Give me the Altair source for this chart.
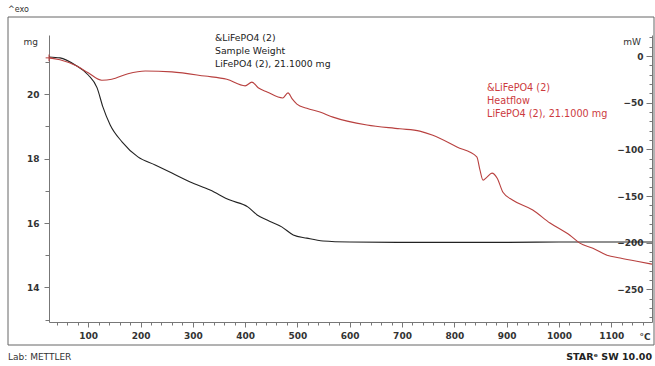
import altair as alt
import pandas as pd

# ---- data ----
temp_w = [25, 46, 75, 100, 117, 128, 142, 165, 195, 228, 260, 295, 333, 371, 405, 423, 442, 470, 492, 518,
          549, 600, 700, 800, 900, 1000, 1100, 1178]
mass_mg = [21.15, 21.12, 20.90, 20.59, 20.19, 19.60, 19.04, 18.51, 18.05, 17.80, 17.55, 17.27, 17.02, 16.71,
           16.50, 16.25, 16.09, 15.88, 15.63, 15.53, 15.44, 15.41, 15.40, 15.40, 15.40, 15.41, 15.41, 15.41]

temp_h = [25, 46, 75, 100, 126, 145, 176, 209, 260, 323, 365, 400, 413, 425, 442, 472, 482, 490, 499, 518,
          543, 568, 633, 696, 734, 759, 805, 843, 849, 855, 862, 872, 882, 893, 912, 950, 983, 1021, 1040, 1065,
          1092, 1117, 1149, 1178]
heat_mw = [-2, -4, -10, -18, -26, -25, -19, -16, -17, -21.5, -25, -32, -28, -34, -38.5, -45, -39.5, -46, -51.5, -56,
           -60, -65.5, -74, -78, -80.5, -85, -97.5, -108, -122, -133, -130, -125.5, -131, -146, -154.5, -165, -179,
           -192, -200.5, -206, -213.5, -216.5, -220, -223]

x_ticks = list(range(40, 1161, 20))
mg_ticks = list(range(13, 22))
mw_ticks = list(range(-280, 21, 10))

weight_label = ["&LiFePO4 (2)", "Sample Weight", "LiFePO4 (2), 21.1000 mg"]
heat_label = ["&LiFePO4 (2)", "Heatflow", "LiFePO4 (2), 21.1000 mg"]
exo_text = "^exo"
mg_unit = "mg"
mw_unit = "mW"
deg_unit = "°C"
lab_text = "Lab: METTLER"
star_text = "STARᵉ SW 10.00"

FONT = "DejaVu Sans"
W, H = 603, 287
BLACK = "#222222"
RED = "#b8403f"
TXT_RED = "#cc3a3e"
AX = "#777777"

wdf = pd.DataFrame({"T": temp_w, "mg": mass_mg})
hdf = pd.DataFrame({"T": temp_h, "mW": heat_mw})
dummy = pd.DataFrame({"k": [0]})

xscale = alt.Scale(domain=[25, 1178], nice=False, zero=False)
xaxis = alt.Axis(
    values=x_ticks, format="d", title=None,
    labelExpr="datum.value % 100 === 0 ? datum.label : ''",
    tickSize={"condition": {"test": "datum.value % 100 === 0", "value": 5}, "value": 3},
    labelPadding=4, labelFontWeight="bold",
)
mg_scale = alt.Scale(domain=[12.93, 21.83], nice=False, zero=False)
mw_scale = alt.Scale(domain=[-285, 22.5], nice=False, zero=False)
mw_axis = alt.Axis(orient="left", offset=-W, values=mw_ticks, title=None, format="d",
                   labelExpr="datum.value % 50 === 0 ? datum.label : ''",
                   tickSize={"condition": {"test": "datum.value % 50 === 0", "value": 6}, "value": 3},
                   labelPadding=3, labelFontWeight="bold")

weight = alt.Chart(wdf).mark_line(color=BLACK, strokeWidth=1.1, interpolate="monotone").encode(
    x=alt.X("T:Q", scale=xscale, axis=xaxis),
    y=alt.Y("mg:Q", scale=mg_scale,
            axis=alt.Axis(orient="left", values=mg_ticks, title=None, format="d",
                          labelExpr="datum.value % 2 === 0 ? datum.label : ''",
                          tickSize={"condition": {"test": "datum.value % 2 === 0", "value": 5}, "value": 4},
                          labelPadding=5, labelFontWeight="bold")),
)

heat_base = alt.Chart(hdf).encode(
    x=alt.X("T:Q", scale=xscale, axis=xaxis),
    y=alt.Y("mW:Q", scale=mw_scale, axis=mw_axis),
)
heat = alt.layer(
    heat_base.mark_line(color=RED, strokeWidth=1.1, interpolate="monotone"),
    heat_base.mark_point(shape="M-1,0L1,0M0,-1L0,1", size=45, filled=False, color=RED,
                         strokeWidth=1, opacity=1).transform_filter("datum.T === 25"),
)

frame = alt.Chart(dummy).mark_rect(filled=False, stroke="#666666", strokeWidth=1).encode(
    x=alt.value(-41), x2=alt.value(605), y=alt.value(-18), y2=alt.value(310)
)


def label(text, x, y, align="left", color="#333333", size=9, weight="normal"):
    return alt.Chart(dummy).mark_text(
        text=text, align=align, baseline="middle", font=FONT, fontSize=size,
        color=color, fontWeight=weight, lineHeight=13,
    ).encode(x=alt.value(x), y=alt.value(y))


texts = [
    label(exo_text, -41, -25, size=8),
    label(mg_unit, -11, 7, align="right"),
    label(mw_unit, 592, 7, align="right"),
    label(deg_unit, 596, 302, align="center", weight="bold"),
    label(weight_label, 166, 3, color="#222222", size=9.3),
    label(heat_label, 438, 53, color=TXT_RED, size=9.7),
    label(lab_text, -41, 322),
    label(star_text, 603, 322, align="right", weight="bold", size=9.5, color="#222222"),
]

chart = alt.layer(frame, weight, heat, *texts).resolve_scale(y="independent").properties(
    width=W, height=H,
    autosize=alt.AutoSizeParams(type="none"),
    padding={"left": 49, "top": 35, "right": 3, "bottom": 44},
).configure_view(strokeWidth=0).configure_axis(
    grid=False, labelFont=FONT, labelFontSize=9, labelColor="#333333",
    domainColor=AX, tickColor=AX, domainWidth=1, tickWidth=1,
)

chart.save("out.html", embed_options={"renderer": "svg", "actions": False})
